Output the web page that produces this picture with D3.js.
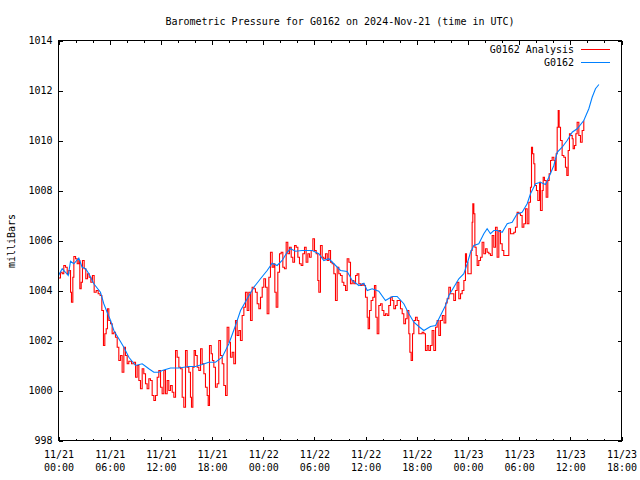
<!DOCTYPE html>
<html><head><meta charset="utf-8">
<script src="https://cdn.jsdelivr.net/npm/d3@7"></script>
<style>body{margin:0;background:#fff} svg{display:block}
text{font-family:"DejaVu Sans Mono","Liberation Mono",monospace;font-size:10px;fill:#000}</style>
</head><body><svg id="c" width="640" height="480"></svg>
<script>
const titleText = "Barometric Pressure for G0162 on 2024-Nov-21 (time in UTC)";
const yLabel = "milliBars";
const seriesNames = ["G0162 Analysis", "G0162"];
const seriesColors = ["#ff0000", "#0080ff"];
const startTime = "2024-11-21T00:00:00Z";
const endTime = "2024-11-23T18:00:00Z";
const yTicks = [998, 1000, 1002, 1004, 1006, 1008, 1010, 1012, 1014];

// hours after 2024-11-21 00:00 UTC
const redHours = [0.00,0.23,0.43,0.62,0.82,1.02,1.21,1.41,1.52,1.68,1.80,2.00,2.19,2.38,2.50,2.66,2.81,3.01,3.20,3.40,3.59,3.79,3.98,4.18,4.42,4.65,4.88,5.08,5.27,5.43,5.59,5.74,5.90,6.10,6.29,6.49,6.68,6.88,7.07,7.27,7.46,7.66,7.85,8.05,8.24,8.56,8.83,9.03,9.22,9.42,9.61,9.81,10.00,10.20,10.39,10.59,10.78,10.98,11.18,11.37,11.57,11.76,11.96,12.15,12.35,12.54,12.74,12.93,13.13,13.33,13.52,13.72,13.91,14.11,14.30,14.50,14.69,14.89,15.08,15.28,15.47,15.59,15.75,15.90,16.06,16.26,16.45,16.65,16.84,17.04,17.23,17.43,17.55,17.70,17.90,18.05,18.21,18.40,18.60,18.79,18.99,19.19,19.38,19.58,19.77,19.97,20.16,20.36,20.55,20.75,20.94,21.14,21.33,21.53,21.73,21.92,22.12,22.31,22.51,22.70,22.90,23.09,23.29,23.49,23.68,23.88,24.07,24.27,24.46,24.66,24.85,25.05,25.24,25.36,25.52,25.71,25.91,26.10,26.30,26.49,26.69,26.88,27.08,27.28,27.47,27.67,27.86,28.06,28.25,28.45,28.64,28.84,29.03,29.23,29.42,29.62,29.82,30.01,30.21,30.40,30.52,30.71,30.91,31.10,31.30,31.50,31.69,31.89,32.08,32.28,32.47,32.67,32.86,33.06,33.25,33.45,33.65,33.84,34.04,34.23,34.43,34.62,34.82,35.01,35.21,35.40,35.60,35.79,35.99,36.19,36.30,36.46,36.65,36.85,37.04,37.20,37.36,37.55,37.75,37.94,38.14,38.33,38.53,38.72,38.92,39.12,39.31,39.51,39.70,39.90,40.09,40.29,40.48,40.68,40.87,41.07,41.19,41.34,41.50,41.66,41.85,42.05,42.24,42.44,42.63,42.83,43.02,43.22,43.41,43.61,43.80,44.00,44.20,44.39,44.59,44.78,45.00,45.20,45.40,45.56,45.76,45.95,46.15,46.34,46.54,46.73,46.93,47.13,47.32,47.52,47.71,47.83,47.99,48.18,48.38,48.49,48.57,48.69,48.81,48.96,49.08,49.27,49.47,49.66,49.86,50.06,50.25,50.45,50.64,50.84,51.03,51.23,51.42,51.62,51.81,52.01,52.20,52.40,52.60,52.79,52.99,53.18,53.38,53.57,53.77,53.96,54.16,54.35,54.55,54.75,54.94,55.14,55.33,55.45,55.57,55.72,55.84,56.03,56.19,56.39,56.50,56.70,56.82,56.97,57.17,57.36,57.52,57.68,57.87,58.07,58.22,58.34,58.46,58.58,58.69,58.85,59.04,59.24,59.43,59.59,59.75,59.90,60.02,60.22,60.33,60.49,60.65,60.80,61.00,61.19,61.39,61.58];
const redValues = [1004.5,1004.73,1004.67,1005.0,1004.93,1004.67,1004.8,1003.93,1003.53,1004.53,1005.36,1005.27,1005.07,1005.2,1004.07,1004.33,1005.2,1004.87,1004.47,1004.67,1004.53,1004.33,1004.6,1003.93,1004.0,1003.87,1003.8,1003.2,1001.8,1002.27,1002.47,1003.27,1002.8,1002.67,1002.27,1002.33,1002.13,1001.73,1001.2,1001.4,1000.73,1001.73,1001.4,1001.07,1001.17,1001.07,1001.13,1000.53,1001.0,1000.4,1000.07,1000.87,1000.67,1000.27,1000.07,1000.47,1000.4,999.8,999.6,999.8,1000.53,1000.8,1000.13,999.87,1000.8,999.87,1000.4,1000.0,1000.2,999.93,999.73,1001.6,1001.33,1000.93,1000.87,999.73,999.33,1001.6,1000.93,1000.73,999.73,999.33,1000.93,1001.6,1001.4,1000.93,1000.8,1001.67,1001.07,1000.67,1000.13,999.8,999.4,1001.8,1001.47,1001.2,1000.93,1000.13,1000.27,1002.0,1001.4,1001.07,1000.2,999.8,1002.53,1001.93,1001.33,1001.53,1001.07,1002.8,1002.2,1002.4,1002.0,1003.0,1003.33,1003.93,1003.2,1003.93,1002.8,1004.13,1004.07,1003.93,1003.47,1003.27,1003.73,1004.13,1004.47,1004.13,1003.07,1004.53,1005.53,1004.93,1005.07,1003.93,1003.33,1004.73,1005.47,1005.53,1004.93,1004.87,1005.93,1005.47,1005.73,1005.33,1005.13,1005.8,1005.73,1005.33,1005.07,1005.0,1005.47,1005.73,1005.13,1005.47,1005.33,1005.6,1006.07,1005.6,1005.47,1004.4,1003.93,1005.8,1005.33,1005.27,1005.47,1005.2,1005.6,1005.13,1005.07,1004.67,1003.6,1004.93,1004.67,1004.6,1004.33,1004.2,1004.0,1005.27,1005.13,1004.27,1004.4,1004.27,1004.6,1004.67,1004.27,1004.2,1004.27,1004.2,1003.73,1002.93,1002.47,1003.2,1003.6,1003.73,1004.2,1002.93,1002.27,1003.4,1003.47,1003.2,1003.0,1003.07,1003.0,1003.4,1003.73,1003.6,1003.27,1003.4,1003.6,1003.6,1003.27,1003.07,1002.67,1002.87,1003.2,1002.27,1001.53,1001.2,1002.27,1002.8,1002.93,1002.8,1002.27,1002.27,1002.33,1002.27,1001.6,1001.8,1001.6,1001.8,1002.4,1001.6,1002.53,1002.8,1002.2,1002.8,1003.0,1002.7,1003.5,1003.67,1004.13,1003.87,1003.87,1003.6,1004.0,1004.33,1003.67,1003.87,1004.0,1004.4,1005.47,1005.13,1004.67,1004.67,1005.6,1006.73,1007.47,1007.07,1005.73,1005.4,1005.0,1005.2,1005.33,1005.93,1005.47,1005.67,1005.53,1005.47,1005.4,1006.2,1005.73,1006.53,1005.33,1006.4,1005.87,1005.6,1005.4,1005.4,1005.4,1006.47,1006.27,1006.27,1006.33,1006.53,1007.13,1007.07,1007.0,1006.53,1006.67,1007.27,1006.67,1007.53,1008.13,1009.73,1009.47,1009.07,1008.2,1008.0,1007.6,1008.33,1007.2,1008.0,1008.53,1008.4,1007.73,1008.4,1008.67,1009.2,1009.33,1009.2,1008.8,1009.47,1010.53,1011.2,1010.53,1010.0,1009.4,1009.33,1008.93,1008.6,1009.6,1010.27,1010.2,1010.07,1009.67,1009.8,1010.27,1010.73,1010.2,1009.93,1010.4,1010.8];

const blueHours = [0.00,0.43,0.82,1.14,1.41,1.80,2.38,2.77,3.17,3.56,4.14,4.92,5.31,5.70,6.10,6.49,7.07,7.66,8.25,9.03,9.81,10.59,11.18,11.76,12.16,13.13,14.11,15.28,16.06,16.84,17.62,18.40,19.19,19.97,20.75,21.34,22.12,22.90,23.68,24.46,25.05,25.63,26.22,26.80,27.20,27.78,28.57,29.74,30.52,31.10,31.69,32.28,33.06,33.84,34.43,35.21,35.80,36.19,36.77,37.55,38.33,39.12,39.70,40.48,41.07,41.66,42.24,42.83,43.61,44.20,44.78,45.37,45.76,46.34,46.93,47.52,47.91,48.30,48.69,49.27,49.86,50.25,50.64,51.03,51.42,52.01,52.60,53.18,53.77,54.35,54.94,55.33,55.92,56.50,57.09,57.48,58.07,58.46,59.04,59.63,60.22,60.80,61.58,62.17,62.56,62.95,63.35];
const blueValues = [1004.6,1004.87,1004.73,1004.6,1005.17,1005.07,1005.3,1004.93,1004.87,1004.67,1004.27,1003.93,1003.47,1003.13,1002.8,1002.4,1002.07,1001.73,1001.33,1001.0,1001.07,1000.87,1000.73,1000.73,1000.8,1000.9,1000.9,1000.96,1000.96,1001.04,1001.13,1001.13,1001.33,1001.87,1002.6,1003.2,1003.67,1004.13,1004.47,1004.8,1005.09,1005.0,1005.2,1005.53,1005.67,1005.57,1005.6,1005.6,1005.47,1005.2,1005.27,1005.07,1004.8,1004.76,1004.4,1004.2,1004.29,1004.0,1004.07,1003.97,1003.6,1003.76,1003.76,1003.47,1003.07,1002.73,1002.56,1002.4,1002.56,1002.6,1003.0,1003.4,1003.8,1004.13,1004.47,1004.67,1005.07,1005.53,1005.8,1005.87,1006.27,1006.47,1006.27,1006.4,1006.4,1006.33,1006.67,1006.73,1007.07,1007.13,1007.47,1007.87,1008.27,1008.33,1008.24,1008.53,1009.0,1009.53,1009.73,1010.0,1010.33,1010.47,1010.8,1011.27,1011.73,1012.07,1012.24];

const svg = d3.select("#c");
const L = 58.5, R = 621.5, T = 40.5, B = 440.5;
const t0 = new Date(startTime), t1 = new Date(endTime);
const toDate = h => new Date(t0.getTime() + h * 3600000);
const x = d3.scaleUtc().domain([t0, t1]).range([L, R]);
const y = d3.scaleLinear().domain([998, 1014]).range([B, T]);

const majorX = d3.utcHour.every(6).range(t0, new Date(t1.getTime() + 1));
const minorX = d3.utcHour.every(2).range(t0, new Date(t1.getTime() + 1)).filter(d => d.getUTCHours() % 6 !== 0);

function styleAxis(g) {
  g.select(".domain").remove();
  g.selectAll("line").attr("stroke", "#000").attr("shape-rendering", "crispEdges");
  g.attr("font-family", null).attr("font-size", null);
}

// clip
svg.append("clipPath").attr("id", "clip").append("rect")
  .attr("x", L).attr("y", T).attr("width", R - L).attr("height", B - T);

// series
const red = redHours.map((h, i) => ({t: toDate(h), v: redValues[i]}));
const blue = blueHours.map((h, i) => ({t: toDate(h), v: blueValues[i]}));
const redLine = d3.line().x(d => x(d.t)).y(d => y(d.v)).curve(d3.curveStepAfter);
const blueLine = d3.line().x(d => x(d.t)).y(d => y(d.v));
const pg = svg.append("g").attr("clip-path", "url(#clip)");
pg.append("path").datum(red).attr("d", redLine).attr("fill", "none")
  .attr("stroke", seriesColors[0]).attr("stroke-width", 1.1);
pg.append("path").datum(blue).attr("d", blueLine).attr("fill", "none")
  .attr("stroke", seriesColors[1]).attr("stroke-width", 1.1);

// axes
const fmt = d3.utcFormat("%m/%d|%H:%M");
svg.append("g").attr("transform", `translate(0,${B})`)
  .call(d3.axisBottom(x).tickValues(majorX).tickSizeInner(-4).tickSizeOuter(0).tickFormat(fmt))
  .call(styleAxis)
  .call(g => g.selectAll("text").each(function(d) {
    const parts = fmt(d).split("|");
    const t = d3.select(this).text(null).attr("y", null).attr("dy", null);
    t.append("tspan").attr("x", 0).attr("y", 17.5).text(parts[0]);
    t.append("tspan").attr("x", 0).attr("y", 30.5).text(parts[1]);
  }));
svg.append("g").attr("transform", `translate(0,${B})`)
  .call(d3.axisBottom(x).tickValues(minorX).tickSizeInner(-2).tickSizeOuter(0).tickFormat(""))
  .call(styleAxis);
svg.append("g").attr("transform", `translate(0,${T})`)
  .call(d3.axisTop(x).tickValues(majorX).tickSizeInner(-4).tickSizeOuter(0).tickFormat(""))
  .call(styleAxis);
svg.append("g").attr("transform", `translate(0,${T})`)
  .call(d3.axisTop(x).tickValues(minorX).tickSizeInner(-2).tickSizeOuter(0).tickFormat(""))
  .call(styleAxis);
svg.append("g").attr("transform", `translate(${L},0)`)
  .call(d3.axisLeft(y).tickValues(yTicks).tickSizeInner(-4).tickSizeOuter(0).tickPadding(6).tickFormat(d3.format("d")))
  .call(styleAxis);
svg.append("g").attr("transform", `translate(${R},0)`)
  .call(d3.axisRight(y).tickValues(yTicks).tickSizeInner(-4).tickSizeOuter(0).tickFormat(""))
  .call(styleAxis);

// border
svg.append("rect").attr("x", L).attr("y", T).attr("width", R - L).attr("height", B - T)
  .attr("fill", "none").attr("stroke", "#000").attr("stroke-width", 1).attr("shape-rendering", "crispEdges");

// title
svg.append("text").attr("x", (L + R) / 2).attr("y", 25).attr("text-anchor", "middle").text(titleText);
// y label
svg.append("text").attr("transform", "translate(15,241) rotate(-90)").attr("text-anchor", "middle").text(yLabel);

// legend
const lg = svg.append("g");
seriesNames.forEach((n, i) => {
  const yy = 49.5 + i * 13;
  lg.append("text").attr("x", 574).attr("y", yy + 3.5).attr("text-anchor", "end").text(n);
  lg.append("line").attr("x1", 581).attr("x2", 610).attr("y1", yy).attr("y2", yy)
    .attr("stroke", seriesColors[i]).attr("stroke-width", 1);
});
</script></body></html>
